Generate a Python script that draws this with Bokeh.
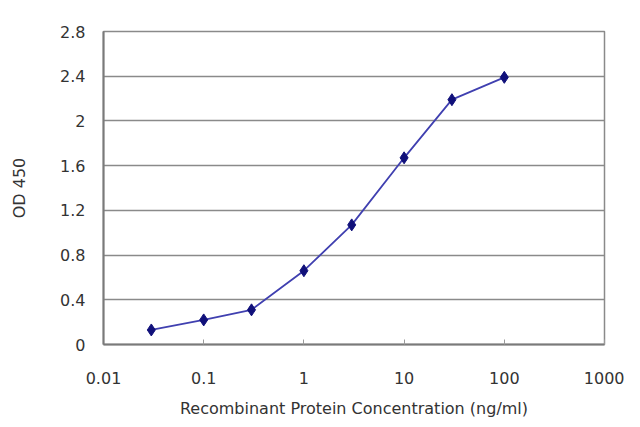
from bokeh.plotting import figure
from bokeh.models import FixedTicker, Range1d
from bokeh.embed import file_html
from bokeh.resources import INLINE

conc = [0.03, 0.1, 0.3, 1, 3, 10, 30, 100]
od450 = [0.13, 0.22, 0.31, 0.66, 1.07, 1.67, 2.19, 2.39]
x_ticks = [0.01, 0.1, 1, 10, 100, 1000]
x_tick_labels = ["0.01", "0.1", "1", "10", "100", "1000"]
y_ticks = [0, 0.4, 0.8, 1.2, 1.6, 2.0, 2.4, 2.8]
y_tick_labels = ["0", "0.4", "0.8", "1.2", "1.6", "2", "2.4", "2.8"]

FONT = "DejaVu Sans"
TXT = "#333333"

p = figure(width=624, height=411, x_axis_type="log",
           x_range=Range1d(0.01, 1000), y_range=Range1d(0, 2.8),
           output_backend="svg", toolbar_location=None,
           min_border_left=103, min_border_right=20,
           min_border_top=31, min_border_bottom=67)
p.frame_width = 501
p.frame_height = 313

p.background_fill_color = "white"
p.border_fill_color = "white"
p.outline_line_color = "#8a8a8a"
p.outline_line_width = 1.5

p.xgrid.visible = False
p.ygrid.ticker = FixedTicker(ticks=y_ticks)
p.ygrid.grid_line_color = "#8a8a8a"
p.ygrid.grid_line_width = 1.5

p.xaxis.ticker = FixedTicker(ticks=x_ticks, minor_ticks=[])
p.xaxis.major_label_overrides = {t: l for t, l in zip(x_ticks, x_tick_labels)}
p.yaxis.ticker = FixedTicker(ticks=y_ticks, minor_ticks=[])
p.yaxis.major_label_overrides = {t: l for t, l in zip(y_ticks, y_tick_labels)}

for ax in (p.xaxis, p.yaxis):
    ax.axis_line_color = "#7a7a7a"
    ax.axis_line_width = 2
    ax.major_label_text_font = FONT
    ax.major_label_text_font_size = "16px"
    ax.major_label_text_color = TXT
    ax.axis_label_text_font = FONT
    ax.axis_label_text_font_size = "16px"
    ax.axis_label_text_font_style = "normal"
    ax.axis_label_text_color = TXT
    ax.minor_tick_line_color = None

p.xaxis.major_tick_in = 5
p.xaxis.major_tick_out = 0
p.xaxis.major_tick_line_color = "#9a9a9a"
p.xaxis.major_label_standoff = 27
p.xaxis.axis_label = "Recombinant Protein Concentration (ng/ml)"
p.xaxis.axis_label_standoff = 12

p.yaxis.major_tick_in = 0
p.yaxis.major_tick_out = 0
p.yaxis.major_label_standoff = 18
p.yaxis.axis_label = "OD 450"
p.yaxis.axis_label_standoff = 28

p.line(conc, od450, line_color="#4040b0", line_width=1.8)
p.scatter(conc, od450, marker="diamond", size=12, fill_color="#10107a",
          line_color="#10107a")

open("out.html", "w").write(file_html(p, INLINE))
